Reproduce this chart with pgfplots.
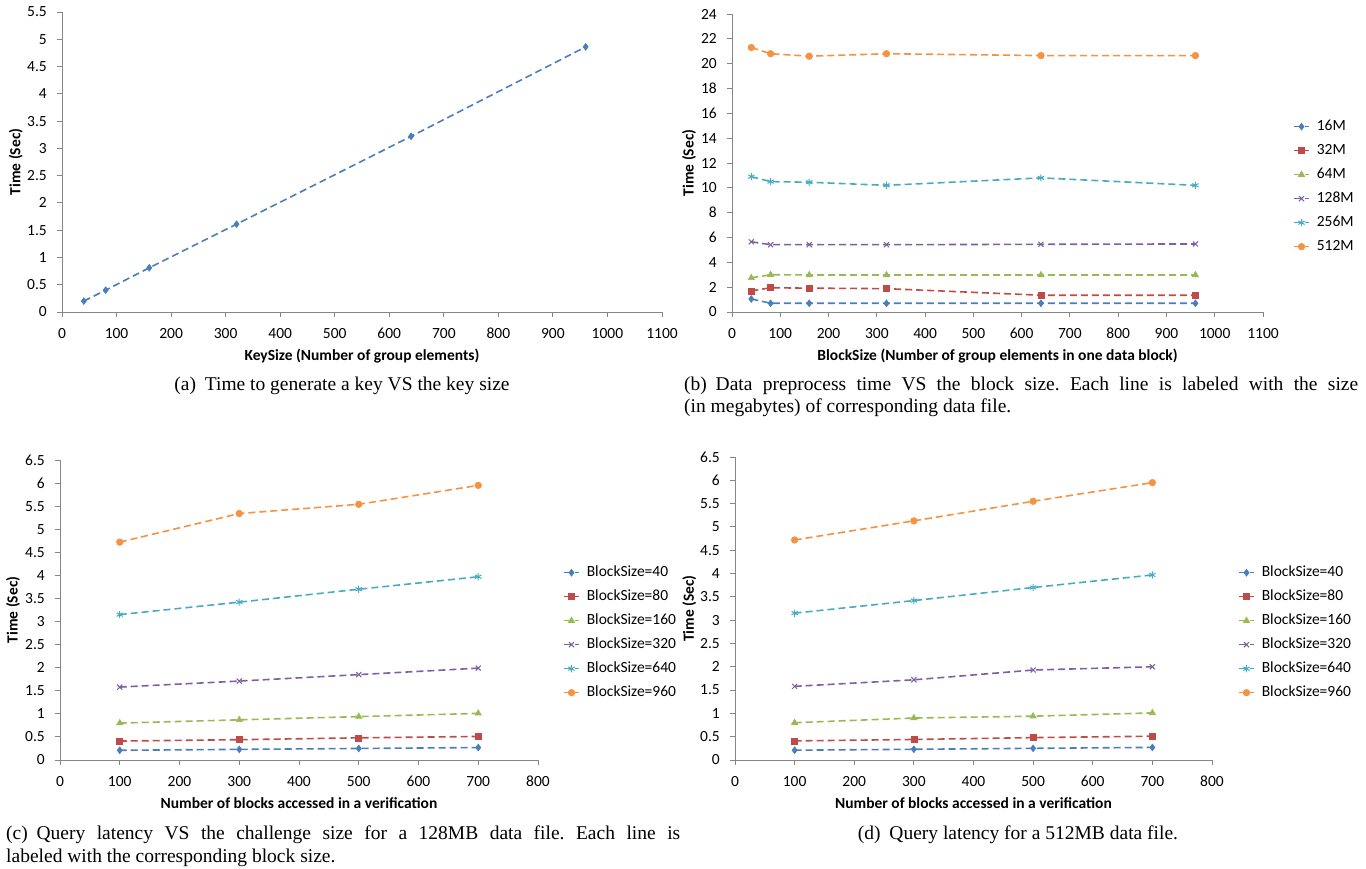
\documentclass[border=0pt]{standalone}
\usepackage{fontspec}
\setmainfont{Liberation Serif}
\newfontfamily\chartfont{Carlito}
\usepackage{pgfplots}
\pgfplotsset{compat=1.18}
\definecolor{axgray}{HTML}{868686}
\definecolor{cA}{HTML}{4A7EBB}
\definecolor{cB}{HTML}{BE4B48}
\definecolor{cC}{HTML}{98B954}
\definecolor{cD}{HTML}{7D60A0}
\definecolor{cE}{HTML}{46AAC5}
\definecolor{cF}{HTML}{F69240}
\newcommand{\cfont}{\chartfont\fontsize{15.5}{18}\selectfont}
\newcommand{\lfont}{\chartfont\bfseries\fontsize{15.5}{18}\selectfont}
\newcommand{\capfont}{\fontsize{19.5}{23}\selectfont}
\frenchspacing
\pgfplotsset{
  excel/.style={
    scale only axis, anchor=south west, clip=false,
    axis x line*=bottom, axis y line*=left,
    axis line style={draw=axgray, line width=0.9pt},
    tick align=outside, major tick length=5pt,
    every tick/.style={draw=axgray, line width=0.9pt},
    tick label style={font=\cfont, text=black},
    /pgf/number format/assume math mode=true,
    /pgf/number format/set thousands separator={},
    xticklabel style={anchor=north, inner sep=0pt, yshift=-11pt},
    yticklabel style={anchor=east, inner sep=0pt, xshift=-10pt},
    legend cell align=left,
    legend style={draw=none, fill=none, anchor=north west, font=\cfont,
      inner xsep=0pt, inner ysep=0pt, row sep=9pt, column sep=7pt,
      nodes={inner sep=0pt, text height=11pt, text depth=4pt}},
    legend image code/.code={\draw[mark repeat=2, mark phase=2, #1]
      plot coordinates {(0pt,0pt) (7.5pt,0pt) (15pt,0pt)};},
    every axis plot/.append style={line width=1.6pt, dash pattern=on 7pt off 4pt},
  },
  xl/.style={every axis x label/.style={at={(axis description cs:0.5,#1)}, anchor=center, font=\lfont}},
  yl/.style={every axis y label/.style={at={(axis description cs:#1,0.5)}, rotate=90, anchor=center, font=\lfont}},
  sA/.style={color=cA, mark=diamond*, mark size=3.4pt, mark options={solid, line width=0.6pt}},
  sB/.style={color=cB, mark=square*, mark size=3pt, mark options={solid, line width=0.6pt}},
  sC/.style={color=cC, mark=triangle*, mark size=3.6pt, mark options={solid, line width=0.6pt}},
  sD/.style={color=cD, mark=x, mark size=3.6pt, mark options={solid, line width=1pt}},
  sE/.style={color=cE, mark=asterisk, mark size=3.6pt, mark options={solid, line width=1pt}},
  sF/.style={color=cF, mark=*, mark size=3.3pt, mark options={solid, line width=0.6pt}},
}
\begin{document}
\begin{tikzpicture}
\path[use as bounding box] (0pt,0pt) rectangle (1366pt,869pt);

% ---------------- (a)
\begin{axis}[excel, at={(62pt,557pt)}, width=600pt, height=300pt,
  xmin=0, xmax=1100, ymin=0, ymax=5.5,
  xtick={0,100,...,1100}, ytick={0,0.5,...,5.5},
  xlabel={KeySize (Number of group elements)}, ylabel={Time (Sec)},
  xl=-0.147, yl=-0.077]
\addplot[sA] coordinates {(40,0.2) (80,0.4) (160,0.81) (320,1.61) (640,3.22) (960,4.86)};
\end{axis}

% ---------------- (b)
\begin{axis}[excel, at={(732pt,557pt)}, width=531pt, height=298pt,
  xmin=0, xmax=1100, ymin=0, ymax=24,
  xtick={0,100,...,1100}, ytick={0,2,...,24},
  xlabel={BlockSize (Number of group elements in one data block)}, ylabel={Time (Sec)},
  xl=-0.148, yl=-0.081,
  legend style={at={(1.0565,0.6477)}}]
\addplot[sA] coordinates {(40,1.05) (80,0.7) (160,0.7) (320,0.7) (640,0.7) (960,0.7)};
\addplot[sB] coordinates {(40,1.7) (80,1.95) (160,1.92) (320,1.88) (640,1.35) (960,1.35)};
\addplot[sC] coordinates {(40,2.75) (80,3.0) (160,2.98) (320,2.98) (640,2.98) (960,2.98)};
\addplot[sD] coordinates {(40,5.65) (80,5.42) (160,5.42) (320,5.42) (640,5.45) (960,5.48)};
\addplot[sE] coordinates {(40,10.9) (80,10.5) (160,10.45) (320,10.2) (640,10.8) (960,10.2)};
\addplot[sF] coordinates {(40,21.3) (80,20.8) (160,20.6) (320,20.8) (640,20.65) (960,20.65)};
\legend{16M,32M,64M,128M,256M,512M}
\end{axis}

% ---------------- (c)
\begin{axis}[excel, at={(60pt,109pt)}, width=478pt, height=300pt,
  xmin=0, xmax=800, ymin=0, ymax=6.5,
  xtick={0,100,...,800}, ytick={0,0.5,...,6.5},
  xlabel={Number of blocks accessed in a verification}, ylabel={Time (Sec)},
  xl=-0.143, yl=-0.098,
  legend style={at={(1.0523,0.65)}}]
\addplot[sA] coordinates {(100,0.21) (300,0.23) (500,0.25) (700,0.27)};
\addplot[sB] coordinates {(100,0.41) (300,0.44) (500,0.48) (700,0.51)};
\addplot[sC] coordinates {(100,0.80) (300,0.87) (500,0.94) (700,1.01)};
\addplot[sD] coordinates {(100,1.58) (300,1.71) (500,1.85) (700,1.99)};
\addplot[sE] coordinates {(100,3.15) (300,3.42) (500,3.70) (700,3.97)};
\addplot[sF] coordinates {(100,4.72) (300,5.34) (500,5.54) (700,5.95)};
\legend{BlockSize=40,BlockSize=80,BlockSize=160,BlockSize=320,BlockSize=640,BlockSize=960}
\end{axis}

% ---------------- (d)
\begin{axis}[excel, at={(735pt,109pt)}, width=477pt, height=303pt,
  xmin=0, xmax=800, ymin=0, ymax=6.5,
  xtick={0,100,...,800}, ytick={0,0.5,...,6.5},
  xlabel={Number of blocks accessed in a verification}, ylabel={Time (Sec)},
  xl=-0.142, yl=-0.096,
  legend style={at={(1.0545,0.6436)}}]
\addplot[sA] coordinates {(100,0.21) (300,0.23) (500,0.25) (700,0.27)};
\addplot[sB] coordinates {(100,0.41) (300,0.44) (500,0.48) (700,0.51)};
\addplot[sC] coordinates {(100,0.80) (300,0.90) (500,0.94) (700,1.01)};
\addplot[sD] coordinates {(100,1.58) (300,1.72) (500,1.93) (700,2.00)};
\addplot[sE] coordinates {(100,3.15) (300,3.42) (500,3.70) (700,3.97)};
\addplot[sF] coordinates {(100,4.72) (300,5.13) (500,5.55) (700,5.95)};
\legend{BlockSize=40,BlockSize=80,BlockSize=160,BlockSize=320,BlockSize=640,BlockSize=960}
\end{axis}

% ---------------- captions
\node[anchor=base, font=\capfont] at (342pt,478pt) {(a)\hspace{0.45em}Time to generate a key VS the key size};
\node[anchor=base west, font=\capfont, inner sep=0pt] at (684pt,478pt)
  {\makebox[674pt][s]{(b)\hspace{0.45em}Data preprocess time VS the block size. Each line is labeled with the size}};
\node[anchor=base west, font=\capfont, inner sep=0pt] at (684pt,456pt) {(in megabytes) of corresponding data file.};
\node[anchor=base west, font=\capfont, inner sep=0pt] at (6pt,29pt)
  {\makebox[674pt][s]{(c)\hspace{0.45em}Query latency VS the challenge size for a 128MB data file. Each line is}};
\node[anchor=base west, font=\capfont, inner sep=0pt] at (6pt,6pt) {labeled with the corresponding block size.};
\node[anchor=base, font=\capfont] at (1018pt,29pt) {(d)\hspace{0.45em}Query latency for a 512MB data file.};
\end{tikzpicture}
\end{document}
